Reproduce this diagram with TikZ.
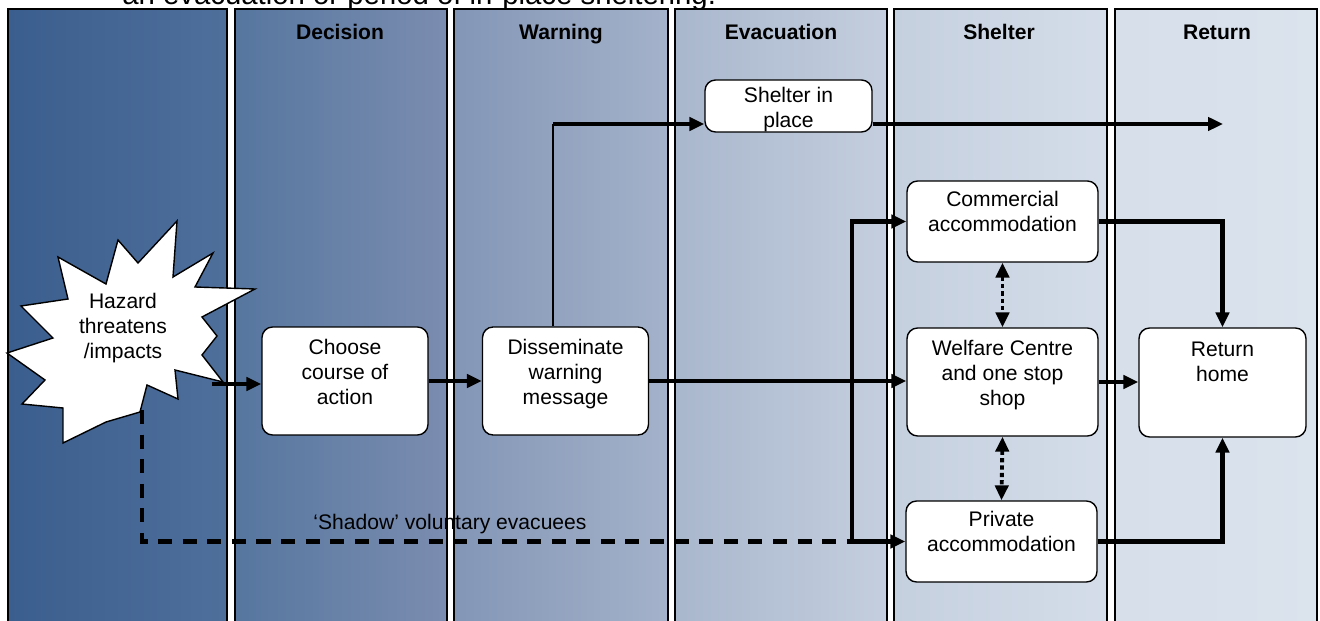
\documentclass[tikz,border=0pt]{standalone}
\usepackage{fontspec}
\setmainfont{Liberation Sans}
\usetikzlibrary{arrows.meta,positioning}
\definecolor{laneAl}{HTML}{3A5E8E}
\definecolor{laneAr}{HTML}{4F6F9B}
\definecolor{laneBl}{HTML}{56769F}
\definecolor{laneBr}{HTML}{7B8DB0}
\definecolor{laneCl}{HTML}{8396B6}
\definecolor{laneCr}{HTML}{A4B2CA}
\definecolor{laneDl}{HTML}{A9B7CD}
\definecolor{laneDr}{HTML}{C4CEDE}
\definecolor{laneEl}{HTML}{C5D0DF}
\definecolor{laneEr}{HTML}{D4DDE9}
\definecolor{laneFl}{HTML}{D6DFEA}
\definecolor{laneFr}{HTML}{DBE3ED}
\tikzset{>={Triangle[length=8.5pt,width=7.5pt]}}
\tikzset{
  lane/.style={draw=black, line width=0.7pt},
  head/.style={anchor=base, font=\fontsize{12}{14}\selectfont\bfseries},
  box/.style={draw=black, fill=white, rounded corners=6pt, line width=0.8pt, inner sep=0pt},
  lbl/.style={align=center, inner sep=0pt},
  flow/.style={->, line width=2.3pt},
  shadowline/.style={line width=2.3pt, dash pattern=on 8pt off 6pt},
  swap/.style={<->, line width=2.2pt, dash pattern=on 2.4pt off 1.8pt}
}

\begin{document}
\begin{tikzpicture}[x=0.02cm, y=-0.02cm, font=\fontsize{12}{14.2}\selectfont]
      \useasboundingbox (0,0) rectangle (1320,621);
      \clip (0,0) rectangle (1320,621);
      \node[anchor=base west, inner sep=0pt, font=\fontsize{16.7}{20}\selectfont] (caption) at (122,5) {an evacuation or period of in-place sheltering.};
      \shadedraw[lane, left color=laneAl, right color=laneAr] (8,9) rectangle (227,640);
      \shadedraw[lane, left color=laneBl, right color=laneBr] (235,9) rectangle (447,640);
      \shadedraw[lane, left color=laneCl, right color=laneCr] (454,9) rectangle (668,640);
      \shadedraw[lane, left color=laneDl, right color=laneDr] (675,9) rectangle (887,640);
      \shadedraw[lane, left color=laneEl, right color=laneEr] (894,9) rectangle (1107,640);
      \shadedraw[lane, left color=laneFl, right color=laneFr] (1115,9) rectangle (1317,640);
      \node[head] (h-decision) at (340,40) {Decision};
      \node[head] (h-warning) at (561,40) {Warning};
      \node[head] (h-evacuation) at (781,40) {Evacuation};
      \node[head] (h-shelter) at (999,40) {Shelter};
      \node[head] (h-return) at (1217,40) {Return};
      \draw[fill=white, line width=0.8pt] (177,221) -- (173,277) -- (213,253) -- (195,287) -- (255,289)
            -- (202,317) -- (217,336) -- (202,355) -- (223,382) -- (175,370) -- (178,399)
            -- (147,385) -- (140,412) -- (106,422) -- (63,443) -- (63,408) -- (22,404)
            -- (45,380) -- (7,353) -- (53,338) -- (21,306) -- (68,299) -- (58,257)
            -- (106,284) -- (118,240) -- (138,263) -- cycle;
      \node[lbl] (hazard) at (123,328) {Hazard\\threatens\\/impacts};
      \node[box, minimum width=3.32cm, minimum height=2.16cm] (choose) at (345,381) {};
      \node[box, minimum width=3.32cm, minimum height=2.16cm] (dissem) at (565.5,381) {};
      \node[box, minimum width=3.34cm, minimum height=1.04cm] (shelterin) at (788.5,106) {};
      \node[box, minimum width=3.82cm, minimum height=1.62cm] (commercial) at (1002.5,221.5) {};
      \node[box, minimum width=3.82cm, minimum height=2.16cm] (welfare) at (1002.5,382) {};
      \node[box, minimum width=3.82cm, minimum height=1.62cm] (private) at (1001.5,541.5) {};
      \node[box, minimum width=3.34cm, minimum height=2.18cm] (returnhome) at (1222.5,382.5) {};
      \node[lbl, below=7pt of choose.north] (choose-l) {Choose\\course of\\action};
      \node[lbl, below=7pt of dissem.north] (dissem-l) {Disseminate\\warning\\message};
      \node[lbl, below=4.5pt of shelterin.north] (shelterin-l) {Shelter in\\place};
      \node[lbl, below=6pt of commercial.north] (commercial-l) {Commercial\\accommodation};
      \node[lbl, below=7pt of welfare.north] (welfare-l) {Welfare Centre\\and one stop\\shop};
      \node[lbl, below=6pt of private.north] (private-l) {Private\\accommodation};
      \node[lbl, below=8pt of returnhome.north] (returnhome-l) {Return\\home};
      \node (shadow-l) at (450,524) {‘Shadow’ voluntary evacuees};
      \coordinate (hzout) at (212,384);
      \coordinate (hzdown) at (142,410);
      \coordinate (split) at (553,124);
      \coordinate (stayend) at (1223,124);
      \coordinate (bus) at (852,0);
      \draw[shadowline] (hzdown) |- (bus |- private.west);
      \draw[flow] (hzout) -- (hzout -| choose.west);
      \draw[flow] (choose.east) -- (dissem.west);
      \draw[line width=1.4pt] (split |- dissem.north) -- (split);
      \draw[flow] (split) -- (split -| shelterin.west);
      \draw[flow] (split -| shelterin.east) -- (stayend);
      \draw[flow] (dissem.east) -- (dissem.east -| welfare.west);
      \draw[flow] (bus |- private.west) |- (commercial.west);
      \draw[flow] (bus |- private.west) -- (private.west);
      \draw[swap] (commercial.south) -- (welfare.north);
      \draw[swap] (welfare.south) -- (private.north);
      \draw[flow] (commercial.east) -| (returnhome.north);
      \draw[flow] (welfare.east) -- (welfare.east -| returnhome.west);
      \draw[flow] (private.east) -| (returnhome.south);
\end{tikzpicture}
\end{document}
